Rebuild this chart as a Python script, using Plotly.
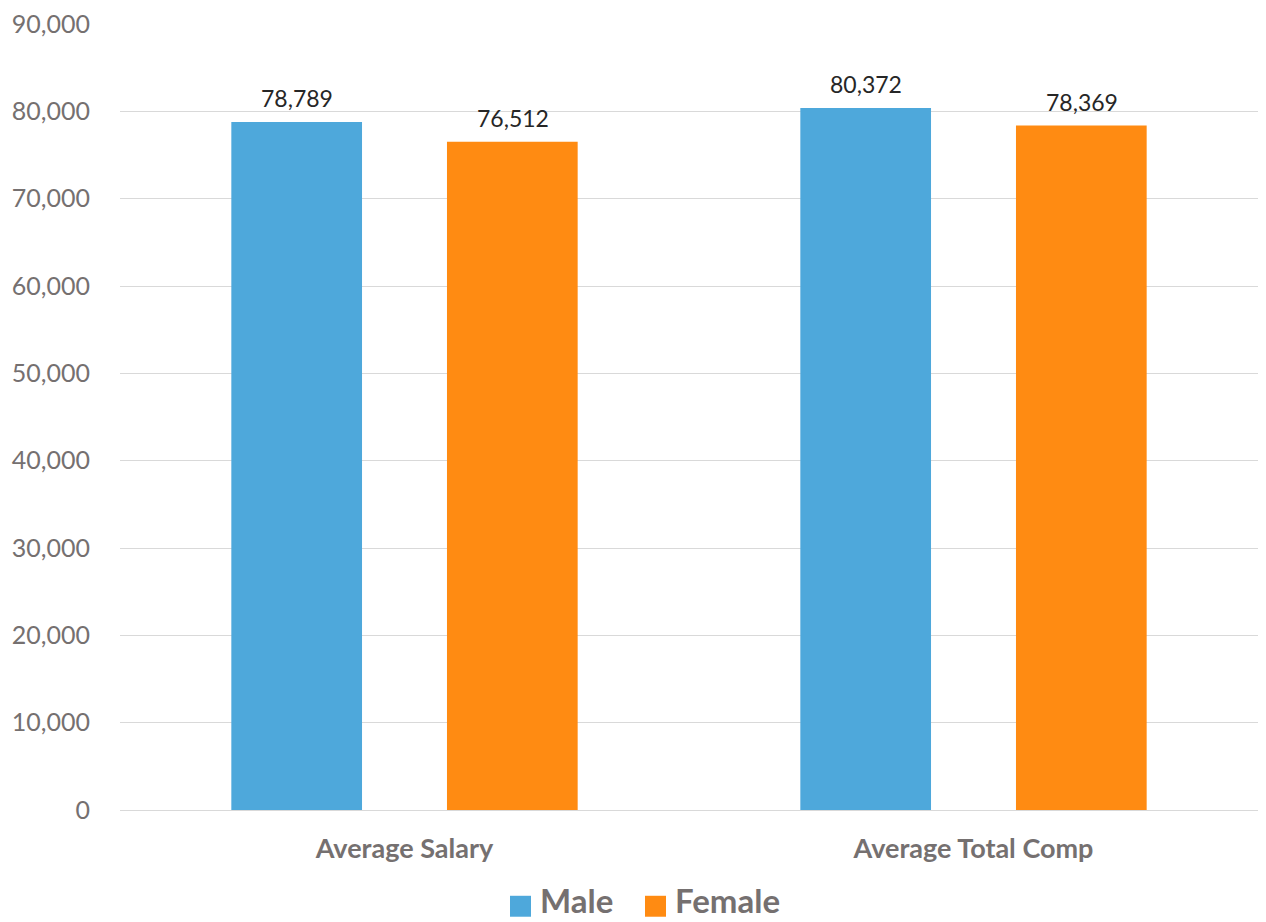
import plotly.graph_objects as go

# Chart data
categories = ["Average Salary", "Average Total Comp"]
series_names = ["Male", "Female"]
male_values = [78789, 80372]
female_values = [76512, 78369]
series_colors = ["#4EA8DB", "#FF8B12"]
y_ticks = list(range(0, 90001, 10000))

TEXT_GREY = "#757070"
FONT = "Lato"

fig = go.Figure()
for name, vals, col in zip(series_names, [male_values, female_values], series_colors):
    fig.add_trace(go.Bar(
        x=categories, y=vals, name=name,
        marker=dict(color=col, line=dict(width=0)),
        showlegend=False,
    ))

# Value labels above each bar (half a bar slot left/right of the category centre)
slot_px = 108
for shift, vals in zip([-slot_px, slot_px], [male_values, female_values]):
    for cat, v in zip(categories, vals):
        fig.add_annotation(x=cat, y=v, xref="x", yref="y", xshift=shift,
                           yanchor="bottom", yshift=8, showarrow=False,
                           text=f"{v:,}",
                           font=dict(family=FONT, size=23, color="#262626"))

# Legend drawn as square swatches with bold labels below the plot
legend_x = [510, 645]
for i, (name, col) in enumerate(zip(series_names, series_colors)):
    x0 = legend_x[i]
    fig.add_shape(type="rect", xref="paper", yref="paper",
                  x0=(x0 - 120) / 1138, x1=(x0 + 21 - 120) / 1138,
                  y0=(810 - 917) / 788, y1=(810 - 896) / 788,
                  fillcolor=col, line=dict(width=0))
    fig.add_annotation(xref="paper", yref="paper",
                       x=(x0 + 28 - 120) / 1138, y=(810 - 900) / 788,
                       xanchor="left", yanchor="middle", showarrow=False,
                       text=f"<b>{name}</b>",
                       font=dict(family=FONT, size=33, color=TEXT_GREY))

fig.update_layout(
    width=1266, height=922,
    margin=dict(l=120, r=8, t=22, b=112),
    paper_bgcolor="white", plot_bgcolor="white",
    barmode="group", bargap=0.242, bargroupgap=0.394,
    font=dict(family=FONT, color=TEXT_GREY),
    xaxis=dict(
        tickfont=dict(family=FONT, size=27, color=TEXT_GREY, weight="bold"),
        showgrid=False, showline=False, ticks="", ticklabelstandoff=20,
    ),
    yaxis=dict(
        range=[0, 90000], tickvals=y_ticks, tickformat=",",
        tickfont=dict(family=FONT, size=25, color=TEXT_GREY),
        showgrid=True, gridcolor="#D9D9D9", gridwidth=1,
        zeroline=True, zerolinecolor="#D9D9D9", zerolinewidth=1,
        showline=False, ticks="", ticklabelstandoff=29,
    ),
)

fig.write_html("out.html")
